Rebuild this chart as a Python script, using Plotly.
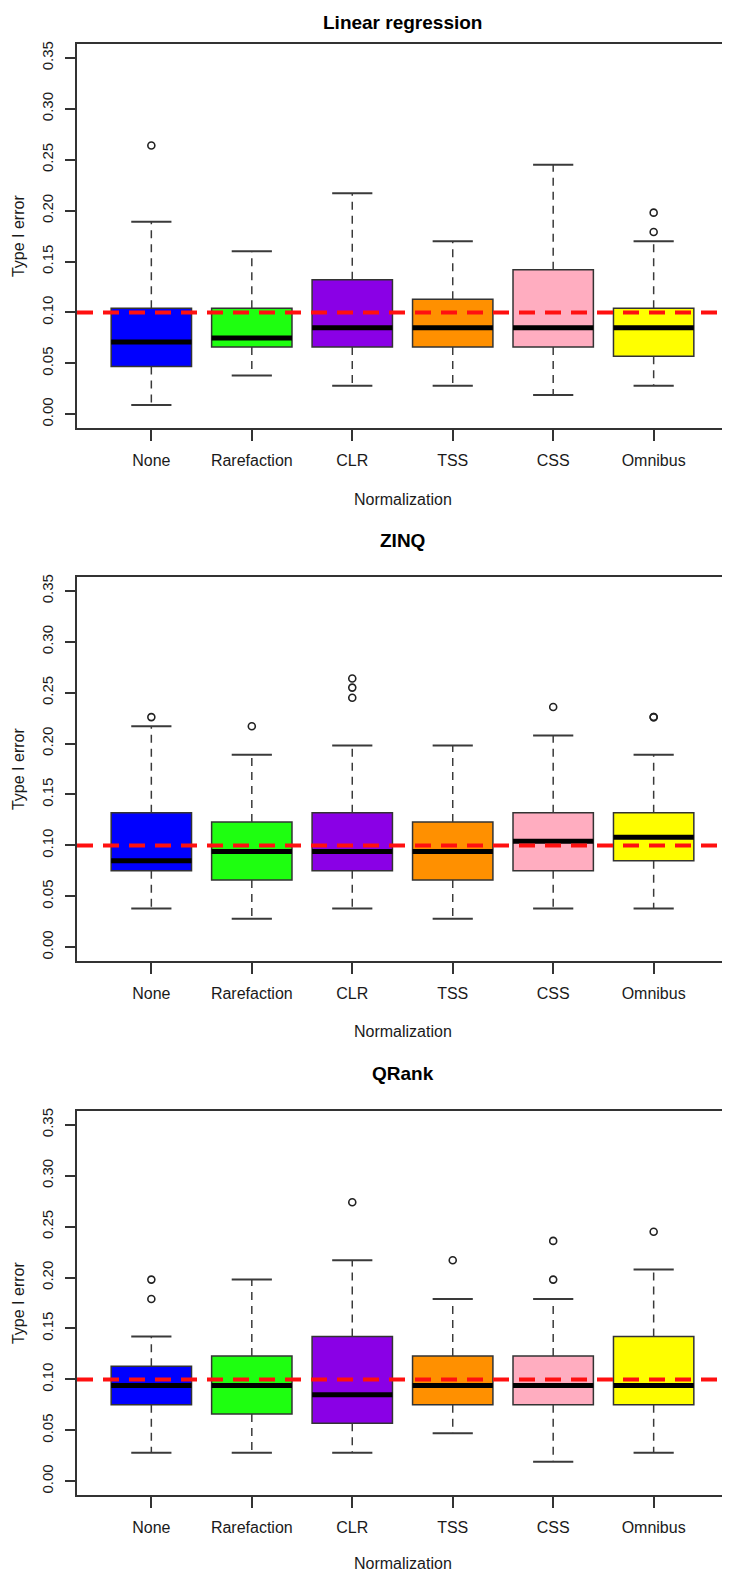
import plotly.graph_objects as go

methods = ["None", "Rarefaction", "CLR", "TSS", "CSS", "Omnibus"]
box_colors = ["#0000ff", "#1eff10", "#8a00e6", "#ff9000", "#ffadc0", "#ffff00"]
y_ticks = [0.00, 0.05, 0.10, 0.15, 0.20, 0.25, 0.30, 0.35]
alpha = 0.10

# Linear regression
lr_lower = [0.009, 0.038, 0.028, 0.028, 0.019, 0.028]
lr_q1 = [0.047, 0.066, 0.066, 0.066, 0.066, 0.057]
lr_median = [0.071, 0.075, 0.085, 0.085, 0.085, 0.085]
lr_q3 = [0.104, 0.104, 0.132, 0.113, 0.142, 0.104]
lr_upper = [0.189, 0.160, 0.217, 0.170, 0.245, 0.170]
lr_outliers = [[0.264], [], [], [], [], [0.179, 0.198]]

# ZINQ
zq_lower = [0.038, 0.028, 0.038, 0.028, 0.038, 0.038]
zq_q1 = [0.075, 0.066, 0.075, 0.066, 0.075, 0.085]
zq_median = [0.085, 0.094, 0.094, 0.094, 0.104, 0.108]
zq_q3 = [0.132, 0.123, 0.132, 0.123, 0.132, 0.132]
zq_upper = [0.217, 0.189, 0.198, 0.198, 0.208, 0.189]
zq_outliers = [[0.226], [0.217], [0.245, 0.255, 0.264], [], [0.236], [0.226, 0.226]]

# QRank
qr_lower = [0.028, 0.028, 0.028, 0.047, 0.019, 0.028]
qr_q1 = [0.075, 0.066, 0.057, 0.075, 0.075, 0.075]
qr_median = [0.094, 0.094, 0.085, 0.094, 0.094, 0.094]
qr_q3 = [0.113, 0.123, 0.142, 0.123, 0.123, 0.142]
qr_upper = [0.142, 0.198, 0.217, 0.179, 0.179, 0.208]
qr_outliers = [[0.179, 0.198], [], [0.274], [0.217], [0.198, 0.236], [0.245]]

panels = [
    ("Linear regression", lr_lower, lr_q1, lr_median, lr_q3, lr_upper, lr_outliers),
    ("ZINQ", zq_lower, zq_q1, zq_median, zq_q3, zq_upper, zq_outliers),
    ("QRank", qr_lower, qr_q1, qr_median, qr_q3, qr_upper, qr_outliers),
]

# the page body adds an 8px margin, so work in page pixels and shift back
OFF = 8
W, H = 730 - OFF, 1573 - OFF
frame_left, frame_right = 77 - OFF, 728 - OFF
frames = [(40.7, 426.3), (574.7, 960.3), (1109.7, 1495.3)]
title_rows = [20, 539, 1073]
xtitle_rows = [497, 1030, 1563]
ylabel_col = 18

font = "Liberation Sans, Arial, sans-serif"
ink = "#1a1a1a"
frame_col = "#333333"

def py(px):
    return 1 - (px - OFF) / H

def px_(x):
    return (x - OFF - frame_left) / (frame_right - frame_left)

fig = go.Figure()
xs = list(range(1, len(methods) + 1))

# boxes first so the scatter layer (medians, whiskers) is drawn above
for p, (title, lo, q1, med, q3, hi, outs) in enumerate(panels):
    xa = "x" if p == 0 else f"x{p + 1}"
    ya = "y" if p == 0 else f"y{p + 1}"
    for i, x in enumerate(xs):
        fig.add_trace(go.Box(
            x=[x], q1=[q1[i]], median=[med[i]], q3=[q3[i]],
            lowerfence=[q1[i]], upperfence=[q3[i]],
            width=0.8, whiskerwidth=0, fillcolor=box_colors[i],
            line=dict(color=frame_col, width=1.5), boxpoints=False,
            xaxis=xa, yaxis=ya, showlegend=False, hoverinfo="skip"))

for p, (title, lo, q1, med, q3, hi, outs) in enumerate(panels):
    xa = "x" if p == 0 else f"x{p + 1}"
    ya = "y" if p == 0 else f"y{p + 1}"
    for i, x in enumerate(xs):
        # dashed whiskers
        fig.add_trace(go.Scatter(
            x=[x, x, None, x, x], y=[q3[i], hi[i], None, q1[i], lo[i]],
            mode="lines", line=dict(color="#3a3a3a", width=1.5, dash="8px,6px"),
            xaxis=xa, yaxis=ya, showlegend=False, hoverinfo="skip"))
        # whisker caps
        fig.add_trace(go.Scatter(
            x=[x - 0.2, x + 0.2, None, x - 0.2, x + 0.2],
            y=[hi[i], hi[i], None, lo[i], lo[i]],
            mode="lines", line=dict(color="#3a3a3a", width=2),
            xaxis=xa, yaxis=ya, showlegend=False, hoverinfo="skip"))
        # thick median
        fig.add_trace(go.Scatter(
            x=[x - 0.4, x + 0.4], y=[med[i], med[i]],
            mode="lines", line=dict(color="black", width=5),
            xaxis=xa, yaxis=ya, showlegend=False, hoverinfo="skip"))
        if outs[i]:
            fig.add_trace(go.Scatter(
                x=[x] * len(outs[i]), y=outs[i], mode="markers",
                marker=dict(symbol="circle-open", size=7, color="#222222",
                            line=dict(width=1.6)),
                xaxis=xa, yaxis=ya, showlegend=False, hoverinfo="skip"))

layout = dict(
    width=W, height=H,
    margin=dict(l=frame_left, r=W - frame_right, t=0, b=0),
    paper_bgcolor="white", plot_bgcolor="white",
    font=dict(family=font, color=ink, size=16),
    shapes=[], annotations=[],
)

for p, (title, *_rest) in enumerate(panels):
    top, bot = frames[p]
    sfx = "" if p == 0 else str(p + 1)
    ya = "y" + sfx
    layout["xaxis" + sfx] = dict(
        domain=[0, 1], anchor=ya, range=[0.26, 6.74],
        tickvals=xs, ticktext=methods, ticks="outside", ticklen=11,
        tickwidth=1.5, tickcolor=frame_col, ticklabelstandoff=5,
        tickfont=dict(size=16, color=ink),
        showline=True, mirror=True, linecolor=frame_col, linewidth=1.8,
        showgrid=False, zeroline=False, fixedrange=True)
    layout["yaxis" + sfx] = dict(
        domain=[py(bot), py(top)], anchor="x" + sfx, range=[-0.014, 0.364],
        tickvals=y_ticks, tickformat=".2f", tickangle=-90,
        ticks="outside", ticklen=10, tickwidth=1.5, tickcolor=frame_col,
        ticklabelstandoff=6, tickfont=dict(size=15, color=ink),
        showline=True, mirror=True, linecolor=frame_col, linewidth=1.8,
        showgrid=False, zeroline=False, fixedrange=True)
    layout["shapes"].append(dict(
        type="line", xref=f"x{sfx} domain", x0=0, x1=1, yref=ya, y0=alpha, y1=alpha,
        line=dict(color="#ff1010", width=4, dash="16px,10px"), layer="above"))
    layout["annotations"] += [
        dict(text="<b>" + title + "</b>", xref="paper", x=0.5, yref="paper",
             y=py(title_rows[p]), xanchor="center", yanchor="middle",
             showarrow=False, font=dict(size=19, color="black")),
        dict(text="Normalization", xref="paper", x=0.5, yref="paper",
             y=py(xtitle_rows[p]), xanchor="center", yanchor="middle",
             showarrow=False, font=dict(size=16, color=ink)),
        dict(text="Type I error", xref="paper", x=px_(ylabel_col),
             yref="paper", y=py((top + bot) / 2), xanchor="center", yanchor="middle",
             textangle=-90, showarrow=False, font=dict(size=16, color=ink)),
    ]

fig.update_layout(**layout)
fig.write_html("out.html")
